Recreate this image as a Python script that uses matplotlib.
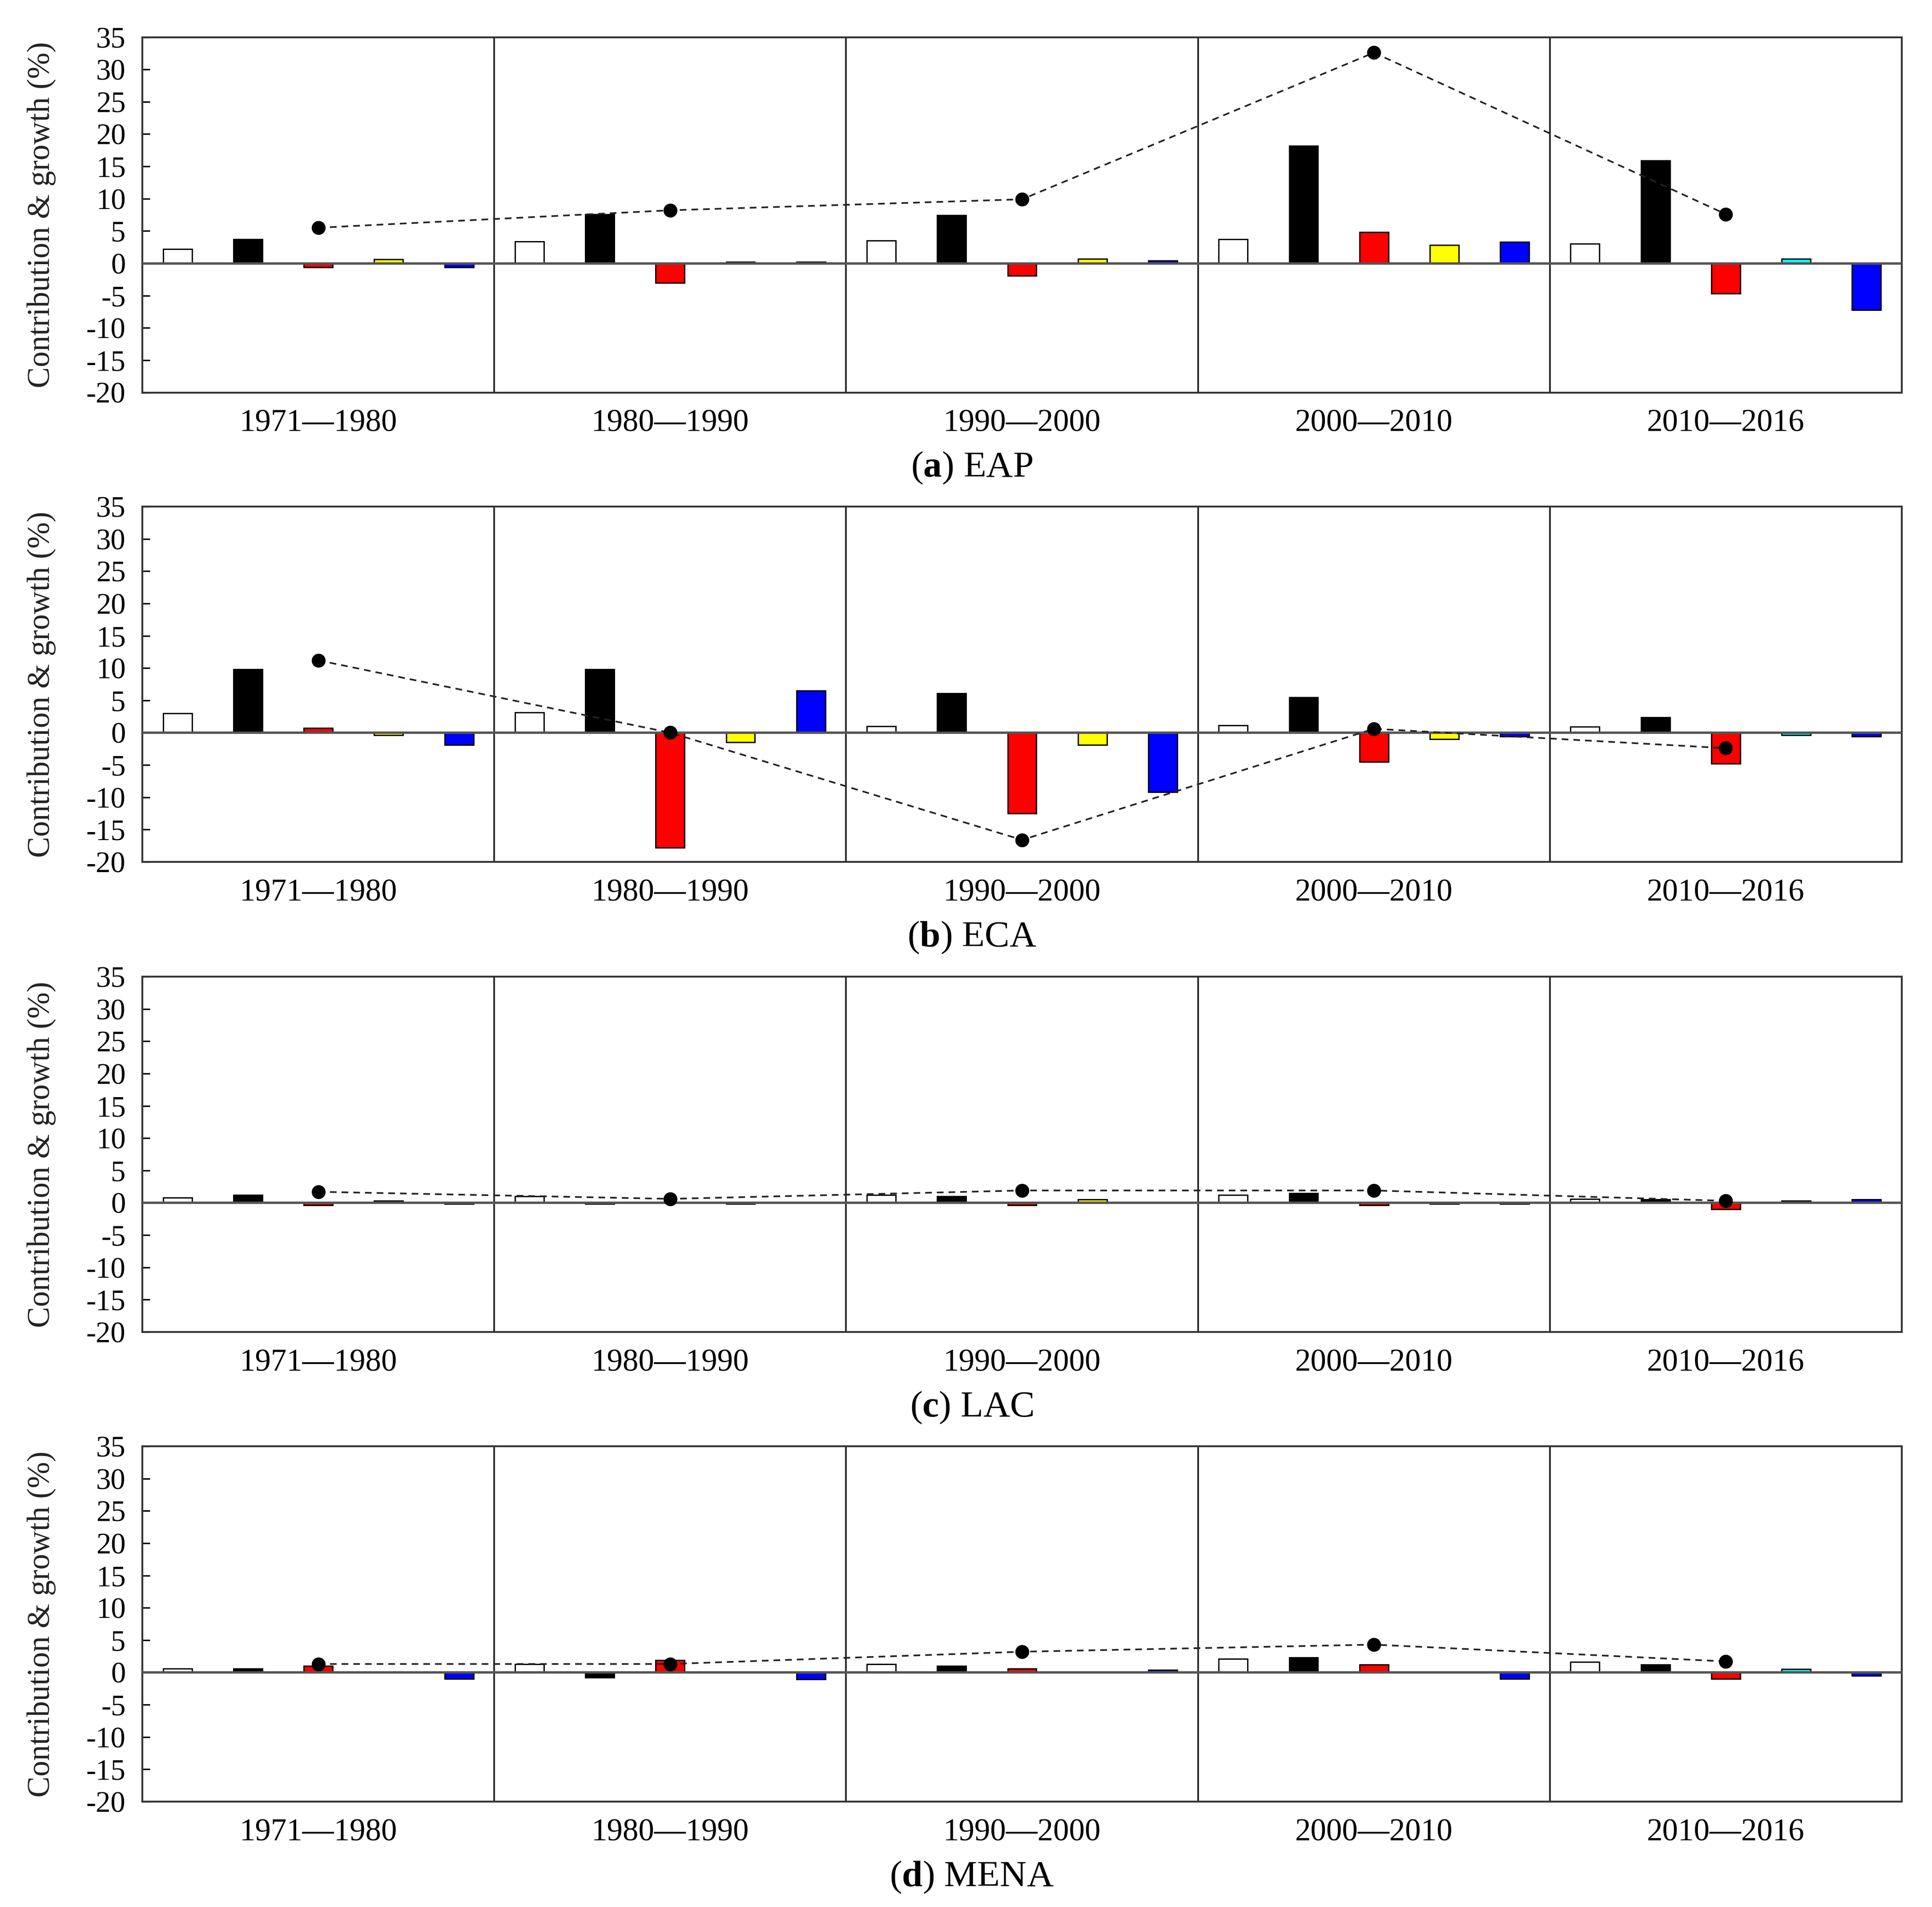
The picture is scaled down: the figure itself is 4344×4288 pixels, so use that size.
import matplotlib
matplotlib.use("Agg")
import matplotlib.pyplot as plt
import numpy as np

plt.rcParams['font.family'] = ['Liberation Serif', 'DejaVu Serif']
plt.rcParams['mathtext.fontset'] = 'custom'
plt.rcParams['mathtext.rm'] = 'Liberation Serif'
plt.rcParams['mathtext.bf'] = 'Liberation Serif:bold'

# ---------------- data ----------------
periods = ["1971\u20141980", "1980\u20141990", "1990\u20142000", "2000\u20142010", "2010\u20142016"]
panel_titles = ["a", "b", "c", "d"]
panel_regions = ["EAP", "ECA", "LAC", "MENA"]

# Panel (a) EAP
eap_white  = [2.2, 3.4, 3.5, 3.7, 3.0]
eap_black  = [3.7, 7.6, 7.4, 18.2, 15.9]
eap_red    = [-0.6, -3.0, -1.9, 4.8, -4.7]
eap_fourth = [0.6, 0.2, 0.7, 2.8, 0.7]
eap_blue   = [-0.6, 0.2, 0.4, 3.3, -7.2]
eap_growth = [5.5, 8.2, 9.9, 32.6, 7.6]

# Panel (b) ECA
eca_white  = [3.0, 3.1, 1.0, 1.1, 0.9]
eca_black  = [9.8, 9.8, 6.1, 5.5, 2.4]
eca_red    = [0.7, -17.8, -12.5, -4.5, -4.8]
eca_fourth = [-0.4, -1.5, -1.9, -1.0, -0.4]
eca_blue   = [-1.9, 6.5, -9.2, -0.6, -0.6]
eca_growth = [11.2, 0.0, -16.6, 0.6, -2.4]

# Panel (c) LAC
lac_white  = [0.8, 1.0, 1.2, 1.2, 0.6]
lac_black  = [1.2, -0.2, 1.0, 1.5, 0.5]
lac_red    = [-0.4, 0.1, -0.4, -0.4, -1.0]
lac_fourth = [0.3, -0.2, 0.5, -0.2, 0.3]
lac_blue   = [-0.2, 0.0, 0.0, -0.2, 0.5]
lac_growth = [1.7, 0.6, 1.9, 1.9, 0.3]

# Panel (d) MENA
mena_white  = [0.6, 1.3, 1.3, 2.1, 1.6]
mena_black  = [0.6, -0.8, 1.0, 2.3, 1.2]
mena_red    = [1.0, 1.9, 0.6, 1.2, -1.0]
mena_fourth = [0.0, 0.0, 0.0, 0.0, 0.5]
mena_blue   = [-1.0, -1.1, 0.4, -1.0, -0.5]
mena_growth = [1.3, 1.3, 3.2, 4.3, 1.7]

yticks = [-20, -15, -10, -5, 0, 5, 10, 15, 20, 25, 30, 35]
ylabel = "Contribution & growth (%)"

panels = [
    (eap_white, eap_black, eap_red, eap_fourth, eap_blue, eap_growth),
    (eca_white, eca_black, eca_red, eca_fourth, eca_blue, eca_growth),
    (lac_white, lac_black, lac_red, lac_fourth, lac_blue, lac_growth),
    (mena_white, mena_black, mena_red, mena_fourth, mena_blue, mena_growth),
]

# ---------------- style ----------------
fourth_colors = ["#FFFF00", "#FFFF00", "#FFFF00", "#FFFF00", "#00FFFF"]
series_colors = ["#FFFFFF", "#000000", "#FF0000", None, "#0000FF"]

W, H = 4344, 4288
DPI = 300
fig = plt.figure(figsize=(W / DPI, H / DPI), dpi=DPI)

left = 320 / W
width = (4276 - 320) / W
ax_h = 799 / H
tops = [83.5, 1139.0, 2196.0, 3252.0]

ng = len(periods)
group_x = np.arange(ng) * 5.0
bar_w = 0.41

for p, (data, tl, reg) in enumerate(zip(panels, panel_titles, panel_regions)):
    bottom = 1 - (tops[p] + 799) / H
    ax = fig.add_axes([left, bottom, width, ax_h])
    white, black, red, fourth, blue, growth = data
    series = [white, black, red, fourth, blue]
    for k, vals in enumerate(series):
        xs = group_x + k + 0.5
        if k == 3:
            cols = fourth_colors
        else:
            cols = [series_colors[k]] * ng
        ax.bar(xs, vals, width=bar_w, color=cols, edgecolor="black",
               linewidth=0.7, zorder=3)
    ax.plot(group_x + 2.5, growth, linestyle=(0, (4, 3)), color="#222222",
            linewidth=0.9, marker="o", markersize=6.5, markerfacecolor="black",
            markeredgecolor="black", zorder=5)
    ax.axhline(0, color="#555555", linewidth=1.3, zorder=4)
    for xd in group_x[1:]:
        ax.axvline(xd, color="#222222", linewidth=0.9, zorder=2)
    ax.set_xlim(0, 25)
    ax.set_ylim(-20, 35)
    ax.set_yticks(yticks)
    ax.set_yticklabels([str(t) for t in yticks], fontsize=16)
    ax.tick_params(axis="y", direction="in", length=4, width=0.8, pad=9)
    ax.set_xticks(group_x + 2.5)
    ax.set_xticklabels(periods, fontsize=17)
    ax.tick_params(axis="x", length=0, pad=9)
    for s in ax.spines.values():
        s.set_color("#333333")
        s.set_linewidth(1.0)
    ax.set_ylabel(ylabel, fontsize=17, color="#222222")
    ax.yaxis.set_label_coords(-0.049, 0.5)
    fig.text(0.503, bottom - 170 / H, r"($\mathbf{" + tl + r"}$) " + reg,
             fontsize=20, ha="center", va="center")

fig.savefig("out.png", dpi=DPI, facecolor="white")
